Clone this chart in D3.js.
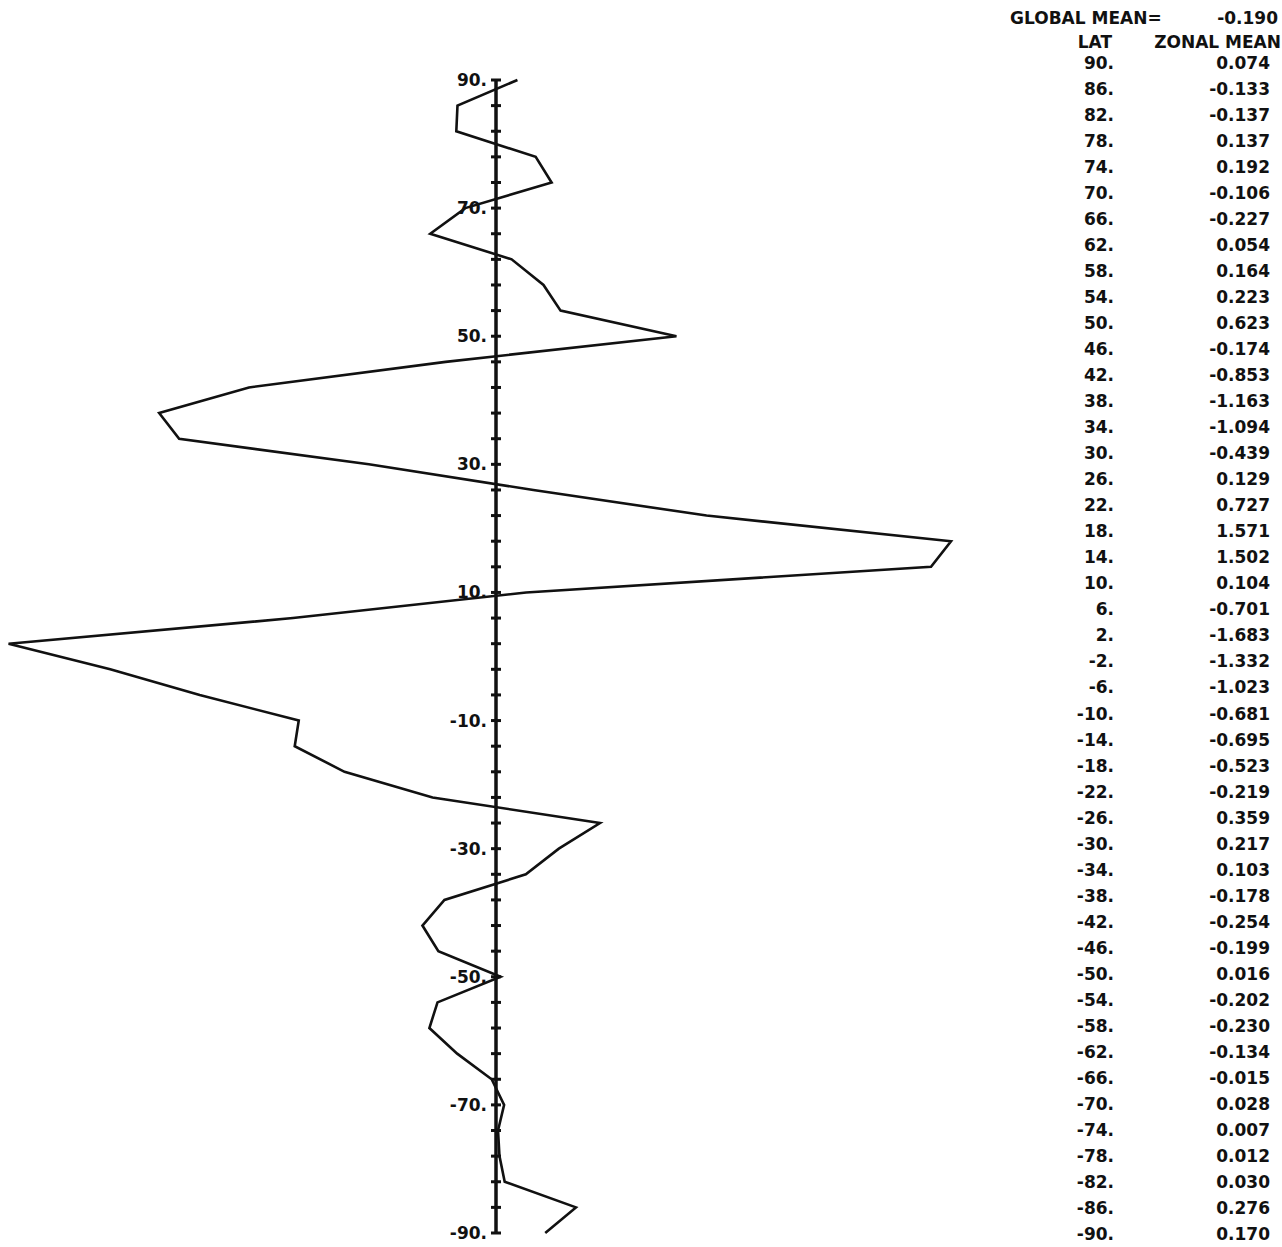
<!DOCTYPE html>
<html>
<head>
<meta charset="utf-8">
<script src="https://cdn.jsdelivr.net/npm/d3@7"></script>
<style>
  body { margin: 0; background: #fff; }
  text { font-family: "DejaVu Sans", sans-serif; font-weight: bold; font-size: 17px; fill: #111; }
</style>
</head>
<body>
<div id="plot"></div>
<script>
// Latitudes (one row per 4 degrees) and the zonal means printed in the table
const lats = [90, 86, 82, 78, 74, 70, 66, 62, 58, 54, 50, 46, 42, 38, 34, 30, 26, 22, 18, 14, 10,
  6, 2, -2, -6, -10, -14, -18, -22, -26, -30, -34, -38, -42, -46, -50, -54, -58, -62, -66, -70,
  -74, -78, -82, -86, -90];
const zonalMean = [0.074, -0.133, -0.137, 0.137, 0.192, -0.106, -0.227, 0.054, 0.164, 0.223, 0.623,
  -0.174, -0.853, -1.163, -1.094, -0.439, 0.129, 0.727, 1.571, 1.502, 0.104, -0.701, -1.683, -1.332,
  -1.023, -0.681, -0.695, -0.523, -0.219, 0.359, 0.217, 0.103, -0.178, -0.254, -0.199, 0.016,
  -0.202, -0.230, -0.134, -0.015, 0.028, 0.007, 0.012, 0.030, 0.276, 0.170];
const axisLabels = [90, 70, 50, 30, 10, -10, -30, -50, -70, -90];
const globalMean = -0.190;

const width = 1282, height = 1247;

const svg = d3.select("#plot")
  .append("svg")
  .attr("width", width)
  .attr("height", height);

// Scales: latitude runs down the page, zonal mean across it
const y = d3.scaleLinear().domain([90, -90]).range([80, 1233]);
const x = d3.scaleLinear().domain([0, 1.571]).range([496, 951]);

const data = lats.map((lat, i) => ({lat: lat, value: zonalMean[i]}));

// Vertical zero axis
svg.append("line")
  .attr("x1", x(0)).attr("x2", x(0))
  .attr("y1", y(90)).attr("y2", y(-90))
  .attr("stroke", "#111")
  .attr("stroke-width", 3.5);

// Tick marks every 4 degrees
svg.selectAll(".tick")
  .data(lats)
  .enter()
  .append("line")
  .attr("class", "tick")
  .attr("x1", x(0) - 5).attr("x2", x(0) + 5)
  .attr("y1", d => y(d)).attr("y2", d => y(d))
  .attr("stroke", "#111")
  .attr("stroke-width", 3);

// Axis labels
svg.selectAll(".alabel")
  .data(axisLabels)
  .enter()
  .append("text")
  .attr("class", "alabel")
  .attr("x", x(0) - 9)
  .attr("y", d => y(d))
  .attr("dy", "0.35em")
  .attr("text-anchor", "end")
  .text(d => d + ".");

// The zonal mean profile
const valueline = d3.line()
  .x(d => x(d.value))
  .y(d => y(d.lat));

svg.append("path")
  .datum(data)
  .attr("d", valueline)
  .attr("fill", "none")
  .attr("stroke", "#111")
  .attr("stroke-width", 2.6)
  .attr("stroke-linejoin", "miter");

// Table on the right
svg.append("text")
  .attr("x", 1010).attr("y", 18).attr("dy", "0.35em")
  .text("GLOBAL MEAN=");
svg.append("text")
  .attr("x", 1278).attr("y", 18).attr("dy", "0.35em")
  .attr("text-anchor", "end")
  .text(globalMean.toFixed(3));

svg.append("text")
  .attr("x", 1112).attr("y", 42).attr("dy", "0.35em")
  .attr("text-anchor", "end")
  .text("LAT");
svg.append("text")
  .attr("x", 1281).attr("y", 42).attr("dy", "0.35em")
  .attr("text-anchor", "end")
  .text("ZONAL MEAN");

const row = d3.scalePoint().domain(lats).range([63, 1234]);

svg.selectAll(".tlat")
  .data(data)
  .enter()
  .append("text")
  .attr("class", "tlat")
  .attr("x", 1114)
  .attr("y", d => row(d.lat))
  .attr("dy", "0.35em")
  .attr("text-anchor", "end")
  .text(d => d.lat + ".");

svg.selectAll(".tval")
  .data(data)
  .enter()
  .append("text")
  .attr("class", "tval")
  .attr("x", 1270)
  .attr("y", d => row(d.lat))
  .attr("dy", "0.35em")
  .attr("text-anchor", "end")
  .text(d => d.value.toFixed(3));
</script>
</body>
</html>
